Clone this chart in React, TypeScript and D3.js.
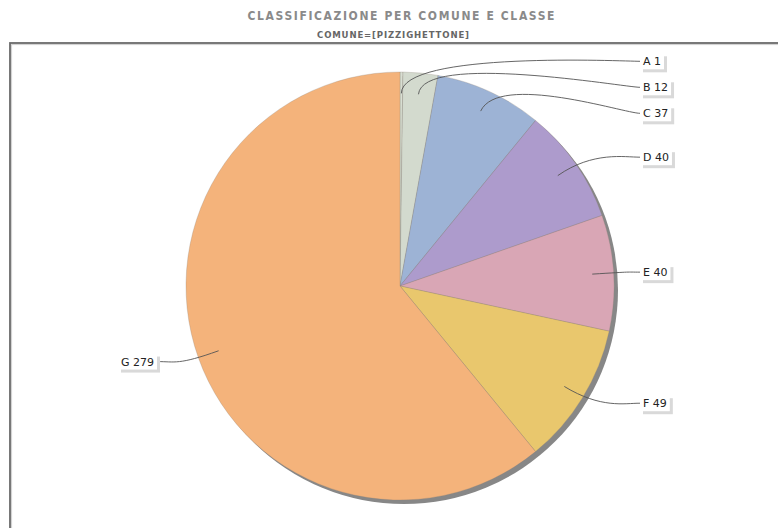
import React, { useMemo } from "react";
import * as d3 from "d3";

const categories = ["A", "B", "C", "D", "E", "F", "G"];
const values = [1, 12, 37, 40, 40, 49, 279];
const sliceColors = ["#d8ded2", "#d3dace", "#9db3d5", "#ad9bcc", "#d9a6b5", "#e9c76d", "#f4b37b"];
const titleText = "CLASSIFICAZIONE PER COMUNE E CLASSE";
const subtitleText = "COMUNE=[PIZZIGHETTONE]";

const W = 778;
const H = 528;
const cx = 400;
const cy = 286;
const r = 214;
const labelFont = "11px 'DejaVu Sans'";

function measure(text: string, font: string): number {
  const c = document.createElement("canvas");
  const ctx = c.getContext("2d");
  if (!ctx) return text.length * 7;
  ctx.font = font;
  return ctx.measureText(text).width;
}

export default function App() {
  const arcs = useMemo(() => {
    const pie = d3.pie<number>().sort(null).value((d) => d).startAngle(0).endAngle(2 * Math.PI);
    return pie(values);
  }, []);

  const arcGen = d3.arc<d3.PieArcDatum<number>>().innerRadius(0).outerRadius(r);

  const labels = useMemo(() => {
    const labelR = r * 1.05;
    const elbowR = r * 1.1;
    const linkR = r * 0.9;
    const items = arcs.map((a, i) => {
      const mid = (a.startAngle + a.endAngle) / 2;
      const right = mid < Math.PI;
      const elbowX = cx + Math.sin(mid) * elbowR;
      const elbowY = cy - Math.cos(mid) * elbowR;
      const linkX = cx + Math.sin(mid) * linkR;
      const linkY = cy - Math.cos(mid) * linkR;
      const y = cy - Math.cos(mid) * labelR;
      return { i, mid, right, elbowX, elbowY, linkX, linkY, y, text: `${categories[i]} ${values[i]}` };
    });
    const spacing = 26;
    [true, false].forEach((side) => {
      const s = items.filter((d) => d.right === side).sort((a, b) => a.y - b.y);
      for (let k = 1; k < s.length; k++) {
        if (s[k].y < s[k - 1].y + spacing) s[k].y = s[k - 1].y + spacing;
      }
    });
    return items;
  }, [arcs]);

  return (
    <div style={{ position: "absolute", left: 0, top: 0, width: W, height: H, background: "#fff" }}>
      <svg width={W} height={H} style={{ display: "block" }}>
        <rect x={0} y={0} width={W} height={H} fill="#fff" />
        <text
          x={401}
          y={20}
          textAnchor="middle"
          fontFamily="'DejaVu Sans Condensed', 'DejaVu Sans'"
          fontWeight="bold"
          fontSize={12}
          fill="#8a8a8a"
          textLength={307}
          lengthAdjust="spacing"
        >
          {titleText}
        </text>
        <text
          x={393}
          y={38}
          textAnchor="middle"
          fontFamily="'DejaVu Sans Condensed', 'DejaVu Sans'"
          fontWeight="bold"
          fontSize={9.5}
          fill="#666"
          textLength={152}
          lengthAdjust="spacing"
        >
          {subtitleText}
        </text>
        {/* plot border */}
        <rect x={10} y={43} width={800} height={520} fill="none" stroke="#6a6a6a" strokeWidth={1.8} />
        <rect x={11.6} y={44.6} width={800} height={520} fill="none" stroke="#cfcfcf" strokeWidth={1} />

        {/* shadow */}
        <circle cx={cx + 4} cy={cy + 4} r={r} fill="#878787" />
        <g transform={`translate(${cx},${cy})`}>
          {arcs.map((a, i) => (
            <path key={i} d={arcGen(a) || ""} fill={sliceColors[i]} stroke="#8c7f74" strokeOpacity={0.45} strokeWidth={0.6} />
          ))}
        </g>

        {/* label links */}
        {labels.map((l) => {
          const targetX = l.right ? cx + 240 : cx - 243;
          const anchorX = l.right ? cx + r * 1.05 : cx - r * 1.05;
          const p = d3.path();
          p.moveTo(targetX, l.y);
          p.bezierCurveTo(anchorX, l.y, l.elbowX, l.elbowY, l.linkX, l.linkY);
          return <path key={"l" + l.i} d={p.toString()} fill="none" stroke="#555" strokeWidth={0.9} />;
        })}

        {/* label boxes */}
        {labels.map((l) => {
          const tw = measure(l.text, labelFont);
          const bw = tw + 6;
          const bh = 16;
          const targetX = l.right ? cx + 240 : cx - 243;
          const bx = l.right ? targetX : targetX - bw;
          const by = l.y - bh / 2;
          return (
            <g key={"b" + l.i}>
              <rect x={bx + 3} y={by + 3} width={bw} height={bh} fill="#d9d9d9" />
              <rect x={bx} y={by} width={bw} height={bh} fill="#fff" />
              <text x={bx + 3} y={l.y + 4} fontFamily="'DejaVu Sans'" fontSize={11} fill="#222">
                {l.text}
              </text>
            </g>
          );
        })}
      </svg>
    </div>
  );
}
